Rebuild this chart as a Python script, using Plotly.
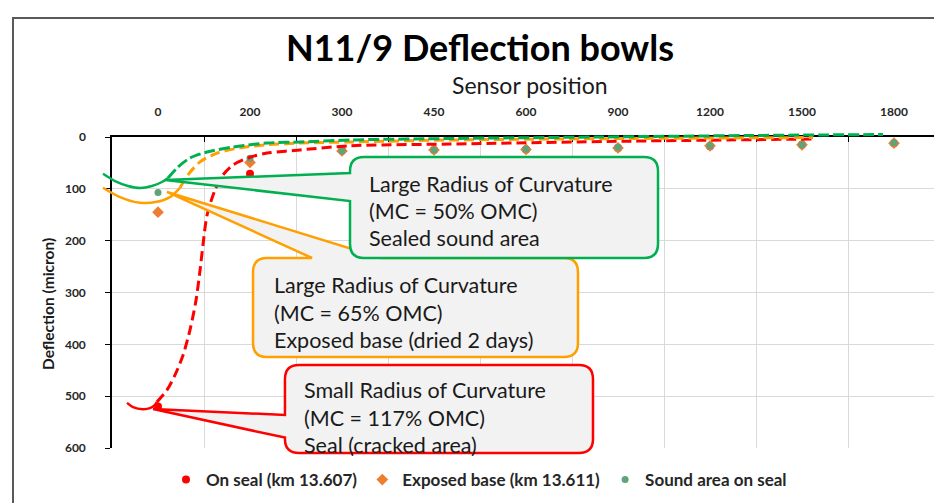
import plotly.graph_objects as go

# ---------------- data ----------------
positions = ["0", "200", "300", "450", "600", "900", "1200", "1500", "1800"]
on_seal = [520, 71, 26, 25, 24, 21, 18, 15, 12]
exposed_base = [145, 49, 27, 25, 24, 21, 17, 15, 12]
sound_area = [107, 41, 27, 25, 23, 20, 17, 15, 11]
series_names = ["On seal (km 13.607)", "Exposed base (km 13.611)", "Sound area on seal"]

# hand-drawn bowl curves (x in sensor-category units, y = deflection)
red_solid_x = [-0.337, -0.272, -0.163, -0.087, -0.033, -0.011]
red_solid_y = [513, 521, 525, 523, 517, 511]
red_dash_x = [-0.011, 0.098, 0.185, 0.272, 0.348, 0.413, 0.457, 0.489, 0.533, 0.620,
              0.707, 0.815, 1.0, 1.185, 1.543, 2.087, 3.174, 5.13, 7.12]
red_dash_y = [511, 488, 459, 421, 372, 315, 257, 208, 151, 102,
              73, 54, 39, 31, 25, 17, 13.5, 8, 3.9]
orange_solid_x = [-0.598, -0.413, -0.196, -0.011, 0.130, 0.239]
orange_solid_y = [98, 116, 127, 125, 116, 98]
orange_dash_x = [0.239, 0.326, 0.457, 0.641, 0.891, 1.185, 1.543, 2.087, 3.174, 5.13, 7.12]
orange_dash_y = [98, 73, 48, 31, 21, 15, 11.6, 9.6, 5.8, 2.9, 1.0]
green_solid_x = [-0.598, -0.467, -0.326, -0.196, -0.065, 0.043, 0.109]
green_solid_y = [71, 85, 94.5, 98.4, 94.5, 86.8, 79]
green_dash_x = [0.109, 0.217, 0.348, 0.533, 0.815, 1.185, 1.543, 2.087, 3.17, 4.80, 6.43, 7.88]
green_dash_y = [79, 58, 40.5, 29, 19.3, 11.6, 9.6, 5.8, 2.9, 0, -2.9, -4.8]

callout_green = ["Large Radius of Curvature", "(MC = 50% OMC)", "Sealed sound area"]
callout_orange = ["Large Radius of Curvature", "(MC = 65% OMC)", "Exposed base (dried 2 days)"]
callout_red = ["Small Radius of Curvature", "(MC = 117% OMC)", "Seal (cracked area)"]

# ---------------- layout geometry ----------------
W, H = 942, 503
OFF = 8                                        # page body margin (screen = figure + OFF)
ML, MR, MT, MB = 92, 10, 117, 40
PW, PH = W - ML - MR, H - MT - MB
SX0, SX1, SY0, SY1 = 112, 940, 137, 448        # main plot area on screen
X0, X1, Y0, Y1 = SX0 - OFF, SX1 - OFF, SY0 - OFF, SY1 - OFF
NCAT = len(positions)
XS = (X1 - X0) / NCAT                          # px per category
YS = (Y1 - Y0) / 600.0                         # px per micron


def pxx(p):
    return (p - OFF - ML) / PW


def pxy(p):
    return (H - MB - (p - OFF)) / PH


RED, ORANGE, GREEN = "#ff0000", "#ffa000", "#00b050"
FONT = "Lato"
TXT = "#262626"
NB = "\u00a0"
legend_pad = [0, 0, 0]                          # trailing spacing between legend entries

fig = go.Figure()

# markers on main axes
fig.add_trace(go.Scatter(x=positions, y=on_seal, mode="markers", name=series_names[0] + NB * legend_pad[0],
                         marker=dict(color=RED, size=8, symbol="circle")))
fig.add_trace(go.Scatter(x=positions, y=exposed_base, mode="markers", name=series_names[1] + NB * legend_pad[1],
                         marker=dict(color="#ed7d31", size=9, symbol="diamond")))
fig.add_trace(go.Scatter(x=positions, y=sound_area, mode="markers", name=series_names[2] + NB * legend_pad[2],
                         marker=dict(color="#5ea37a", size=7, symbol="circle")))

# curves on an overlay subplot spanning slightly beyond plot area
for xs, ys, col, dash, w in [
    (red_solid_x, red_solid_y, RED, "solid", 2.5),
    (red_dash_x, red_dash_y, RED, "10px,5px", 3),
    (orange_solid_x, orange_solid_y, ORANGE, "solid", 2.5),
    (orange_dash_x, orange_dash_y, ORANGE, "10px,5px", 3),
    (green_solid_x, green_solid_y, GREEN, "solid", 2.5),
    (green_dash_x, green_dash_y, GREEN, "11px,4px", 3),
]:
    fig.add_trace(go.Scatter(x=xs, y=ys, mode="lines", xaxis="x2", yaxis="y2", showlegend=False,
                             hoverinfo="skip",
                             line=dict(color=col, width=w, dash=dash, shape="spline", smoothing=0.8)))

# ---------------- callouts ----------------
RX, RY = 14 / XS, 14 / YS


def box_left_tail(x0, x1, y0, y1, tb1, tb2, tip):
    tx, ty = tip
    return (f"M {x0+RX},{y0} L {x1-RX},{y0} Q {x1},{y0} {x1},{y0+RY} "
            f"L {x1},{y1-RY} Q {x1},{y1} {x1-RX},{y1} L {x0+RX},{y1} "
            f"Q {x0},{y1} {x0},{y1-RY} L {x0},{tb2} L {tx},{ty} L {x0},{tb1} "
            f"L {x0},{y0+RY} Q {x0},{y0} {x0+RX},{y0} Z")


def box_top_tail(x0, x1, y0, y1, bx1, bx2, tip):
    tx, ty = tip
    return (f"M {x0+RX},{y0} L {bx1},{y0} L {tx},{ty} L {bx2},{y0} L {x1-RX},{y0} "
            f"Q {x1},{y0} {x1},{y0+RY} L {x1},{y1-RY} Q {x1},{y1} {x1-RX},{y1} "
            f"L {x0+RX},{y1} Q {x0},{y1} {x0},{y1-RY} L {x0},{y0+RY} Q {x0},{y0} {x0+RX},{y0} Z")


shapes = []
shapes.append(dict(type="path", xref="x2", yref="y2", layer="above",
                   path=box_top_tail(1.033, 4.565, 233.4, 424.4, 1.674, 2.424, (0.098, 106)),
                   fillcolor="#f2f2f2", line=dict(color=ORANGE, width=2.5)))
shapes.append(dict(type="path", xref="x2", yref="y2", layer="above",
                   path=box_left_tail(1.380, 4.728, 439.9, 609.7, 536.3, 580, (-0.054, 524.8)),
                   fillcolor="#f2f2f2", line=dict(color=RED, width=2.5)))
shapes.append(dict(type="path", xref="x2", yref="y2", layer="above",
                   path=box_left_tail(2.087, 5.435, 38.6, 233.4, 69.5, 123.5, (0.076, 83)),
                   fillcolor="#f2f2f2", line=dict(color=GREEN, width=2.5)))

# outer chart frame
shapes.append(dict(type="rect", xref="paper", yref="paper", x0=pxx(13), x1=pxx(960), y0=pxy(18), y1=pxy(530),
                   line=dict(color="#595959", width=2), fillcolor="rgba(0,0,0,0)"))

annotations = []
for lines, xl, ys in [
    (callout_green, 2.272, [90.7, 142.8, 194.9]),
    (callout_orange, 1.239, [285.5, 339.5, 391.6]),
    (callout_red, 1.565, [488.1, 542.1, 594.2]),
]:
    for t, yy in zip(lines, ys):
        annotations.append(dict(text=t, x=xl, y=yy, xref="x2", yref="y2", xanchor="left", yanchor="middle",
                                showarrow=False, font=dict(family=FONT, size=21.5, color="#1a1a1a")))

annotations.append(dict(text="Sensor position", x=pxx(530), y=pxy(85), xref="paper", yref="paper",
                        xanchor="center", yanchor="middle", showarrow=False,
                        font=dict(family=FONT, size=23, color="#1a1a1a")))
annotations.append(dict(text="Deflection (micron)", x=pxx(48), y=pxy(304), xref="paper", yref="paper",
                        xanchor="center", yanchor="middle", showarrow=False, textangle=-90,
                        font=dict(family=FONT, size=15.5, color="#1a1a1a", weight="bold")))

fig.update_layout(
    width=W, height=H,
    margin=dict(l=ML, r=MR, t=MT, b=MB, pad=0),
    paper_bgcolor="white", plot_bgcolor="rgba(0,0,0,0)",
    title=dict(text="<b>N11/9 Deflection bowls</b>", x=(480 - OFF) / W, y=1 - (48 - OFF) / H,
               xref="container", yref="container", xanchor="center", yanchor="middle",
               font=dict(family=FONT, size=36, color="#000000")),
    xaxis=dict(type="category", categoryorder="array", categoryarray=positions,
               domain=[(X0 - ML) / PW, (X1 - ML) / PW], range=[-0.5, NCAT - 0.5], side="top",
               tickson="boundaries", ticks="inside", ticklen=5, tickcolor="black", tickwidth=1.2,
               showline=True, linecolor="black", linewidth=1.5,
               showgrid=True, gridcolor="#d9d9d9", gridwidth=1,
               tickfont=dict(family=FONT, size=12, color=TXT, weight="bold"),
               ticklabelstandoff=14, anchor="y"),
    yaxis=dict(domain=[(H - MB - Y1) / PH, (H - MB - Y0) / PH], range=[600, 0], dtick=100, tick0=0,
               ticks="outside", ticklen=5, tickcolor="black", tickwidth=1.2,
               showline=True, linecolor="black", linewidth=1.5,
               showgrid=True, gridcolor="#d9d9d9", gridwidth=1, zeroline=False,
               tickfont=dict(family=FONT, size=12, color=TXT, weight="bold"),
               ticklabelstandoff=17, anchor="x"),
    xaxis2=dict(domain=[0, 1], range=[-0.5 - (X0 - ML) / XS, NCAT - 0.5 + (ML + PW - X1) / XS],
                visible=False, anchor="y2"),
    yaxis2=dict(domain=[0, 1], range=[600 + ((H - MB) - Y1) / YS, -(Y0 - MT) / YS],
                visible=False, anchor="x2"),
    legend=dict(orientation="h", x=pxx(166), y=pxy(480), xanchor="left", yanchor="middle",
                font=dict(family=FONT, size=17, color=TXT, weight="bold"),
                bgcolor="rgba(0,0,0,0)", itemclick=False),
    shapes=shapes,
    annotations=annotations,
    showlegend=True,
)

fig.write_html("out.html")
